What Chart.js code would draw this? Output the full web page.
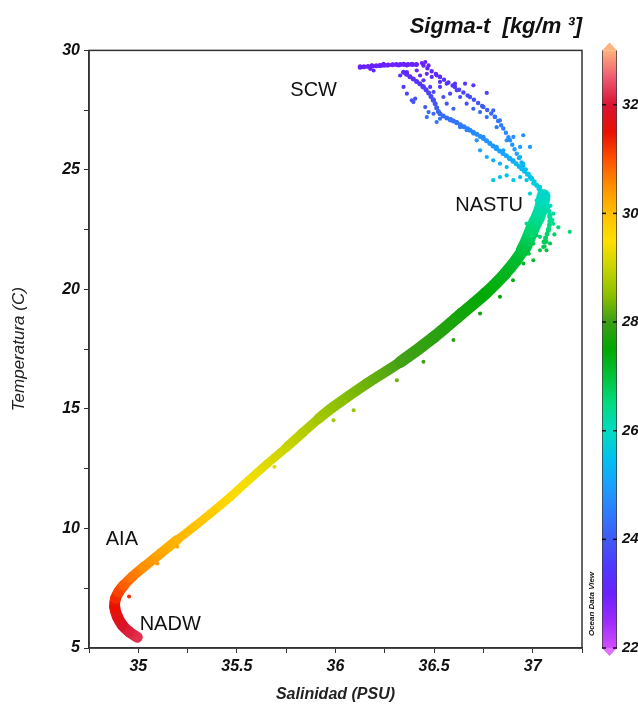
<!DOCTYPE html>
<html><head><meta charset="utf-8">
<script src="https://cdn.jsdelivr.net/npm/chart.js@4.4.1/dist/chart.umd.min.js"></script>
<style>html,body{margin:0;padding:0;background:#fff;overflow:hidden}#wrap{width:638px;height:705px;position:relative}</style>
</head><body><div id="wrap"><canvas id="c" width="638" height="705"></canvas></div>
<script>
// ---- Main T-S band (centre line of the dense cloud) ----
const bandSal = [34.995, 34.953, 34.919, 34.894, 34.880, 34.885, 34.902, 34.927, 34.969, 35.029, 35.113, 35.197, 35.282, 35.366, 35.467, 35.560, 35.655, 35.755, 35.835, 35.915, 35.990, 36.160, 36.330, 36.500, 36.640, 36.760, 36.860, 36.950, 36.995, 37.040, 37.055];
const bandTemp = [5.45, 5.68, 5.96, 6.31, 6.73, 7.08, 7.36, 7.63, 7.98, 8.40, 8.96, 9.52, 10.07, 10.63, 11.33, 12.02, 12.72, 13.42, 14.02, 14.60, 15.09, 16.07, 16.97, 18.01, 18.99, 19.83, 20.66, 21.64, 22.47, 23.31, 23.90];
const bandSigma = [32.2, 32.1, 31.9, 31.7, 31.5, 31.3, 31.1, 30.9, 30.7, 30.5, 30.25, 30.1, 29.95, 29.8, 29.6, 29.4, 29.2, 29.0, 28.85, 28.7, 28.55, 28.3, 28.05, 27.85, 27.65, 27.45, 27.25, 27.0, 26.6, 26.2, 25.95];

// ---- Upper branches (surface waters) ----
const innerSal = [36.345, 36.446, 36.497, 36.530, 36.598, 36.682, 36.750, 36.817, 36.885, 36.944, 36.995, 37.037, 37.070, 37.087, 37.079, 37.054];
const innerTemp = [29.09, 28.47, 27.91, 27.35, 27.05, 26.66, 26.31, 25.89, 25.47, 25.05, 24.63, 24.15, 23.59, 23.03, 22.47, 21.92];
const innerSigma = [23.2, 23.5, 23.85, 24.2, 24.35, 24.6, 24.8, 24.95, 25.2, 25.4, 25.6, 25.8, 26.0, 26.3, 26.6, 26.8];

const outerSal = [36.446, 36.530, 36.606, 36.682, 36.750, 36.809, 36.851, 36.885, 36.919, 36.952, 36.995];
const outerTemp = [29.37, 28.89, 28.47, 28.05, 27.63, 27.21, 26.73, 26.24, 25.68, 25.19, 24.63];
const outerSigma = [23.0, 23.3, 23.5, 23.8, 24.0, 24.3, 24.55, 24.8, 25.1, 25.35, 25.6];

const topSal = [36.125, 36.227, 36.328, 36.429];
const topTemp = [29.30, 29.37, 29.41, 29.41];
const topSigma = [23.0, 23.0, 23.0, 23.0];

// ---- Individual scattered samples ----
const upperSal = [36.125,36.142,36.176,36.184,36.193,36.244,36.261,36.294,36.32,36.345,36.362,36.387,36.412,36.438,36.455,36.472,36.328,36.362,36.379,36.412,36.429,36.446,36.463,36.488,36.513,36.530,36.345,36.362,36.387,36.404,36.395,36.48,36.497,36.53,36.547,36.564,36.581,36.606,36.615,36.657,36.699,36.767,36.455,36.472,36.463,36.497,36.53,36.513,36.564,36.598,36.632,36.665,36.699,36.733,36.767,36.80,36.834,36.817,36.581,36.615,36.632,36.665,36.699,36.716,36.75,36.784,36.817,36.851,36.868,36.902,36.936,36.952,36.986,36.733,36.767,36.80,36.834,36.868,36.902,36.936,36.952,36.80,36.834,36.868,36.902,36.936,36.969,37.003,37.037,37.07,36.986,37.02,37.054,37.07,37.037,37.088,37.104,37.188,36.969,37.003,37.037,37.07,37.054,37.003,36.969,37.07,37.09,37.10,37.11,37.06,36.98,36.96,37.00,36.99,37.13,37.05,37.02];
const upperTemp = [29.33,29.30,29.23,29.37,29.16,29.44,29.37,29.41,29.37,29.44,29.37,29.44,29.41,29.47,29.51,29.37,28.95,29.09,28.89,29.16,28.95,28.75,29.02,28.89,28.95,28.68,28.47,28.19,27.91,27.98,27.84,28.47,28.26,28.47,28.05,28.61,28.19,28.61,28.33,28.61,28.54,28.22,27.63,27.42,27.21,27.35,27.14,27.0,27.77,27.56,28.05,27.77,27.56,27.42,27.21,27.49,27.07,26.79,27.07,27.0,26.79,26.66,26.52,26.24,26.38,26.1,25.96,25.82,26.24,26.38,25.96,26.45,25.96,25.82,25.54,25.40,25.26,25.12,25.40,25.54,25.26,24.57,24.70,24.77,24.57,24.70,24.57,24.43,24.29,24.01,24.01,23.73,23.59,23.31,23.03,23.03,23.17,22.41,22.75,22.47,22.2,21.99,21.78,21.92,22.2,23.9,23.5,22.9,22.3,21.8,21.5,22.0,23.0,22.9,22.6,22.9,23.4];
const upperSigma = [23.0,23.0,23.0,23.0,23.1,23.0,23.0,23.0,23.0,23.0,23.0,23.0,23.0,23.0,23.0,23.1,23.2,23.2,23.3,23.1,23.2,23.4,23.2,23.3,23.2,23.4,23.5,23.7,23.9,23.8,23.9,23.5,23.7,23.5,23.8,23.4,23.7,23.4,23.6,23.4,23.5,23.7,24.0,24.2,24.3,24.2,24.3,24.4,23.9,24.1,23.8,23.9,24.1,24.2,24.3,24.1,24.4,24.5,24.4,24.4,24.5,24.6,24.7,24.8,24.7,24.9,24.9,25.0,24.8,24.7,24.9,24.7,24.9,25.0,25.2,25.2,25.3,25.4,25.2,25.2,25.3,25.6,25.5,25.5,25.6,25.5,25.6,25.7,25.7,25.8,25.8,26.0,26.0,26.2,26.3,26.3,26.3,26.6,26.4,26.6,26.7,26.8,26.9,26.8,26.7,25.95,26.1,26.35,26.7,26.85,27.0,26.8,26.35,26.4,26.55,26.4,26.15];

const lowerSal = [34.953,35.096,35.197,35.434,35.620,35.690,35.75,35.80,35.86,35.93,35.99,36.092,36.311,36.446,36.598,36.733,36.834,36.90,37.003,37.07,37.037,37.088,37.104,37.02,36.953,36.818,36.70,36.62,36.54,36.40,36.23,36.05,36.88,36.93];
const lowerTemp = [7.15,8.54,9.24,11.19,12.37,12.58,13.56,13.84,14.11,14.6,14.53,14.95,16.2,16.97,17.88,18.99,19.69,20.38,21.22,21.64,21.64,21.92,22.75,22.27,21.08,20.18,19.3,18.7,18.1,17.3,16.5,15.3,20.9,21.1];
const lowerSigma = [31.3,30.45,30.2,29.65,29.3,29.25,28.95,28.9,28.8,28.7,28.7,28.6,28.3,28.05,27.85,27.65,27.5,27.35,27.1,27.0,27.0,26.9,26.5,26.75,27.15,27.4,27.6,27.75,27.85,28.0,28.2,28.55,27.2,27.15];

// ---- Axes / colour bar ----
const salMin = 34.75, salMax = 37.25, salStep = 0.25;
const tempMin = 5, tempMax = 30, tempStep = 2.5;
const cbMin = 22, cbMax = 33, cbStep = 2;

// colour map of the colour bar (style)
const cmapStops = [[22.0,'#d24cff'],[22.5,'#9a2cff'],[23.0,'#6a20ff'],[23.5,'#5038ff'],[24.0,'#405af2'],[24.5,'#2e7cff'],[25.0,'#1aa0ff'],[25.5,'#00c2ee'],[26.0,'#00dcc0'],[26.5,'#00dc80'],[27.0,'#00c23c'],[27.5,'#00a800'],[28.0,'#3c9e18'],[28.5,'#8cc000'],[29.0,'#c8d400'],[29.5,'#ffe000'],[30.0,'#ffbe00'],[30.5,'#ff9000'],[31.0,'#ff5000'],[31.5,'#e81000'],[32.0,'#d81432'],[32.5,'#ee5a72'],[33.0,'#ffb27e']];

function hex2rgb(h){return [parseInt(h.slice(1,3),16),parseInt(h.slice(3,5),16),parseInt(h.slice(5,7),16)];}
function sigmaColor(v){
  if (v <= cmapStops[0][0]) return cmapStops[0][1];
  for (let i=1;i<cmapStops.length;i++){
    if (v <= cmapStops[i][0]){
      const [v0,c0]=cmapStops[i-1],[v1,c1]=cmapStops[i];
      const f=(v-v0)/(v1-v0), a=hex2rgb(c0), b=hex2rgb(c1);
      return 'rgb('+a.map((x,k)=>Math.round(x+(b[k]-x)*f)).join(',')+')';
    }
  }
  return cmapStops[cmapStops.length-1][1];
}
const pts = (xs, ys) => xs.map((x,i)=>({x, y: ys[i]}));

const FAM = "'Liberation Sans', Arial, sans-serif";
const annotations = [
  {text:'SCW', x:35.771, y:28.33},
  {text:'NASTU', x:36.607, y:23.52},
  {text:'AIA', x:34.835, y:9.52},
  {text:'NADW', x:35.007, y:6.0}
];

function lineDataset(xs, ys, sig, widthFn, dash){
  return {
    data: pts(xs, ys), showLine:true, pointRadius:0, pointHoverRadius:0,
    tension:0.3, borderCapStyle:'round', borderJoinStyle:'round',
    borderColor: sigmaColor(sig[0]), borderDash: dash || [],
    segment:{
      borderColor: ctx => {
        const g = ctx.chart.ctx.createLinearGradient(ctx.p0.x, ctx.p0.y, ctx.p1.x, ctx.p1.y);
        g.addColorStop(0, sigmaColor(sig[ctx.p0DataIndex]));
        g.addColorStop(1, sigmaColor(sig[ctx.p1DataIndex]));
        return g;
      },
      borderWidth: ctx => widthFn(ctx.p0.parsed.y),
      borderDash: () => dash || []
    }
  };
}
function dotDataset(xs, ys, sig, r){
  return {data: pts(xs, ys), pointRadius:r, pointHoverRadius:r, borderWidth:0, pointBorderWidth:0,
    pointBackgroundColor: sig.map(sigmaColor), showLine:false};
}

const frame = {
  id:'frame',
  afterDatasetsDraw(chart){
    const {ctx, chartArea:a, scales} = chart;
    ctx.save();
    ctx.strokeStyle='#333'; ctx.lineWidth=1.5;
    ctx.strokeRect(a.left, a.top, a.right-a.left, a.bottom-a.top);
    ctx.fillStyle='#111'; ctx.font = '20px '+FAM; ctx.textAlign='left'; ctx.textBaseline='middle';
    annotations.forEach(an => ctx.fillText(an.text, scales.x.getPixelForValue(an.x), scales.y.getPixelForValue(an.y)));
    ctx.restore();
  },
  afterDraw(chart){
    const s = chart.scales.cb, ctx = chart.ctx;
    const x0 = s.left + 20, w = 15;
    const yTop = s.getPixelForValue(cbMax), yBot = s.getPixelForValue(cbMin);
    ctx.save();
    const g = ctx.createLinearGradient(0, yBot, 0, yTop);
    cmapStops.forEach(([v,c]) => g.addColorStop((v-cbMin)/(cbMax-cbMin), c));
    ctx.fillStyle = g; ctx.fillRect(x0, yTop, w, yBot-yTop);
    ctx.fillStyle = '#ffb27e';
    ctx.beginPath(); ctx.moveTo(x0, yTop); ctx.lineTo(x0+w/2, yTop-8); ctx.lineTo(x0+w, yTop); ctx.closePath(); ctx.fill();
    ctx.fillStyle = '#e070ff';
    ctx.beginPath(); ctx.moveTo(x0, yBot); ctx.lineTo(x0+w/2, yBot+8); ctx.lineTo(x0+w, yBot); ctx.closePath(); ctx.fill();
    ctx.strokeStyle='rgba(60,60,60,0.75)'; ctx.lineWidth=1;
    ctx.beginPath(); ctx.moveTo(x0+0.5,yTop); ctx.lineTo(x0+0.5,yBot); ctx.moveTo(x0+w-0.5,yTop); ctx.lineTo(x0+w-0.5,yBot); ctx.stroke();
    ctx.fillStyle='#111';
    s.ticks.forEach(t => { const y = s.getPixelForValue(t.value); ctx.fillRect(x0, y-0.75, 4, 1.5); ctx.fillRect(x0+w-4, y-0.75, 4, 1.5); });
    ctx.translate(x0-10, 604); ctx.rotate(-Math.PI/2);
    ctx.font = 'italic bold 8px '+FAM; ctx.textAlign='center'; ctx.textBaseline='middle';
    ctx.fillText('Ocean Data View', 0, 0);
    ctx.restore();
  }
};

const bandWidth = t => t < 7.6 ? 11 : t < 9 ? 10 : t < 13 ? 8.5 : t < 14.6 ? 9.5 : t < 16.5 ? 10.5 : t < 21 ? 12 : 14;
const tickFont = {family:FAM, size:16, style:'italic', weight:'bold'};
new Chart(document.getElementById('c'), {
  type:'scatter',
  data:{datasets:[
    dotDataset(upperSal, upperTemp, upperSigma, 2.1),
    dotDataset(lowerSal, lowerTemp, lowerSigma, 2),
    lineDataset(topSal, topTemp, topSigma, () => 5, [0, 4]),
    lineDataset(outerSal, outerTemp, outerSigma, () => 4.5, [0, 5]),
    lineDataset(innerSal, innerTemp, innerSigma, () => 5, [0, 4]),
    lineDataset(bandSal, bandTemp, bandSigma, bandWidth)
  ]},
  options:{
    responsive:false, animation:false, devicePixelRatio:1,
    layout:{padding:0},
    plugins:{
      legend:{display:false}, tooltip:{enabled:false},
      title:{display:true, fullSize:false, align:'end', text:'Sigma-t  [kg/m \u00B3]', color:'#111',
        font:{family:FAM, size:22, style:'italic', weight:'bold'}, padding:{top:14, bottom:10}}
    },
    scales:{
      x:{type:'linear', position:'bottom', min:salMin, max:salMax,
        afterFit: s => { s.height = 57; },
        border:{display:true, color:'#333', width:1.5},
        grid:{display:true, drawOnChartArea:false, drawTicks:true, tickLength:5, color:'#333', tickWidth:1},
        ticks:{stepSize:salStep, autoSkip:false, maxRotation:0, padding:4, color:'#111', font:tickFont,
          callback: v => (v >= 35 && Math.abs(v*2 - Math.round(v*2)) < 1e-6) ? String(+v.toFixed(2)) : ''},
        title:{display:true, text:'Salinidad (PSU)', color:'#222', font:{family:FAM, size:16, style:'italic', weight:'bold'}, padding:{top:0, bottom:1}}
      },
      y:{type:'linear', position:'left', min:tempMin, max:tempMax,
        afterFit: s => { s.width = 89; },
        border:{display:true, color:'#333', width:1.5},
        grid:{display:true, drawOnChartArea:false, drawTicks:true, tickLength:5, color:'#333', tickWidth:1},
        ticks:{stepSize:tempStep, autoSkip:false, padding:4, color:'#111', font:tickFont,
          callback: v => (Math.abs(v/5 - Math.round(v/5)) < 1e-6) ? String(v) : ''},
        title:{display:true, text:'Temperatura (C)', color:'#222', font:{family:FAM, size:17, style:'italic'}, padding:{top:9, bottom:0}}
      },
      cb:{type:'linear', axis:'y', position:'right', min:cbMin, max:cbMax,
        afterFit: s => { s.width = 56; },
        border:{display:false},
        grid:{display:true, drawOnChartArea:false, drawTicks:true, tickLength:37, color:'rgba(0,0,0,0)'},
        ticks:{stepSize:cbStep, includeBounds:false, padding:3, color:'#111', font:{family:FAM, size:15, style:'italic', weight:'bold'}}
      }
    }
  },
  plugins:[frame]
});
</script>
</body></html>
